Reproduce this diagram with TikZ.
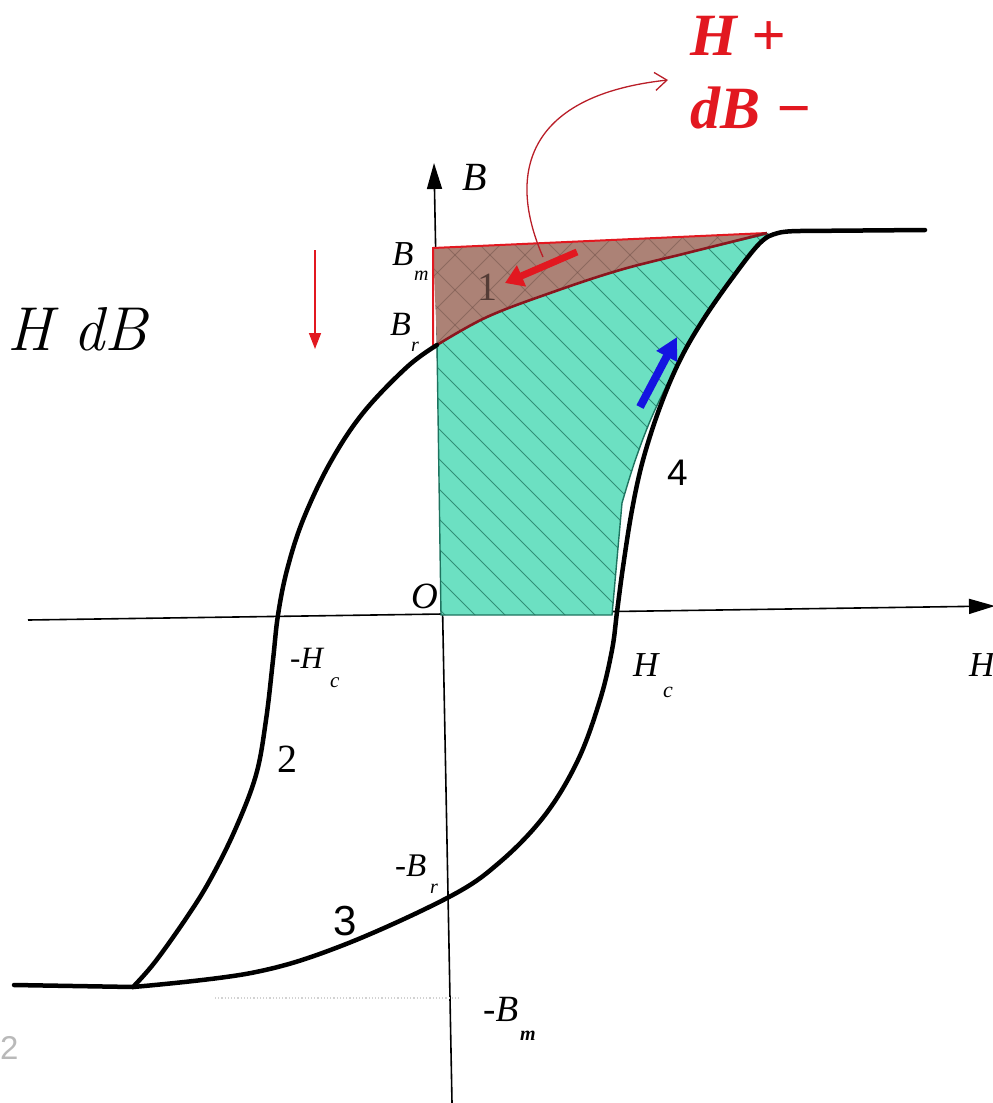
\documentclass[tikz,border=0pt]{standalone}
\usepackage{fontspec}
\newfontfamily\tnr{Liberation Serif}
\newfontfamily\ars{Liberation Sans}
\usetikzlibrary{arrows.meta}
\definecolor{teal1}{RGB}{108,224,194}
\definecolor{tealdk}{RGB}{30,115,95}
\definecolor{brown1}{RGB}{172,130,118}
\definecolor{browndk}{RGB}{105,75,68}
\definecolor{red1}{RGB}{226,24,32}
\definecolor{red2}{RGB}{185,30,40}
\definecolor{blue1}{RGB}{20,20,225}
\newcommand\fsz[1]{\fontsize{#1}{#1}\selectfont}
\begin{document}
\begin{tikzpicture}[x=1pt,y=-1pt,
  lbl/.style={inner sep=0pt, anchor=base west},
  curve/.style={line width=4.5pt, line join=round, line cap=round},
  axis/.style={line width=1.6pt, -{Triangle[length=26pt,width=15pt]}},
  hatch/.style={tealdk, line width=0.9pt, opacity=0.75},
  xhatch/.style={browndk, line width=0.9pt, opacity=0.45}]
\useasboundingbox (0,0) rectangle (993,1103);

% axes
\coordinate (bbot) at (452,1103);
\coordinate (btop) at (434,163);
\coordinate (hleft) at (28,620);
\coordinate (hright) at (995,606);
\draw[axis] (bbot) -- (btop);
\draw[axis] (hleft) -- (hright);

% faint dotted line at -Bm
\coordinate (d1) at (215,998);
\coordinate (d2) at (461,998);
\draw[gray!35, line width=1.2pt, dotted] (d1) -- (d2);

% teal region
\def\tealpath{(437,345) -- (441,615) -- (612,615) -- (622,503)
  -- plot[smooth,tension=0.6] coordinates {(622,503) (636,458) (654,412) (680,360) (703,320) (733,277) (760,243) (767,234)}
  -- plot[smooth,tension=0.6] coordinates {(767,234) (687,253) (620,270) (553,292) (487,317) (437,345)} -- cycle}
\fill[teal1] \tealpath;
\begin{scope}
  \clip \tealpath;
  \foreach \c in {-200,-170,...,560} \draw[hatch] (\c+150,150) -- (\c+700,700);
\end{scope}
\draw[tealdk, line width=1.4pt] \tealpath;

% brown region
\def\brownpath{(433,248) -- (767,233)
  -- plot[smooth,tension=0.6] coordinates {(767,233) (687,253) (620,270) (553,292) (487,317) (437,345)} -- cycle}
\fill[brown1] \brownpath;
\begin{scope}
  \clip \brownpath;
  \foreach \c in {60,95,...,560} \draw[xhatch] (\c+200,200) -- (\c+400,400);
  \foreach \c in {640,675,...,1140} \draw[xhatch] (\c-200,200) -- (\c-400,400);
\end{scope}
\draw[red1, line width=2pt] (433,345) -- (433,248) -- (767,233);
\draw[red2!75!black, line width=2.6pt] plot[smooth,tension=0.6] coordinates {(767,233) (687,253) (620,270) (553,292) (487,317) (437,345)};

% hysteresis loop (black)
\draw[curve] (14,985) -- plot[smooth,tension=0.6] coordinates {(133,987) (251,973) (341,946) (449,897) (500,862) (545,815) (578,760) (600,700) (612,650) (617,612) (623,567) (632,510) (643,460) (660,407) (680,360) (703,320) (733,277) (760,243) (778,233) (800,231)} -- (925,230);
\draw[curve] plot[smooth,tension=0.6] coordinates {(437,345) (407,367) (363,413) (330,463) (303,520) (287,570) (278,615) (273,660) (266,720) (256,775) (235,830) (210,880) (187,917) (155,962) (133,987)};

% arrows
\coordinate (ra1) at (577,252); \coordinate (ra2) at (505,283);
\draw[red1, line width=7pt, -{Triangle[length=18pt,width=22pt]}] (ra1) -- (ra2);
\coordinate (ba1) at (640,407); \coordinate (ba2) at (677,337);
\draw[blue1, line width=8pt, -{Triangle[length=22pt,width=22pt]}] (ba1) -- (ba2);
\coordinate (va1) at (315,250); \coordinate (va2) at (315,349);
\draw[red1, line width=1.6pt, -{Triangle[length=16pt,width=12pt]}] (va1) -- (va2);
\coordinate (ca1) at (543,257); \coordinate (ca2) at (668,80);
\draw[red2, line width=1.3pt, -{Straight Barb[length=12pt,width=18pt]}] (ca1) .. controls (505,170) and (530,95) .. (ca2);

% big texts
\node[lbl, red1] (hplus) at (690,55) {\tnr\bfseries\itshape\fsz{60}H +};
\node[lbl, red1] (dbminus) at (690,128) {\tnr\bfseries\itshape\fsz{60}dB \char"2212};
\node[lbl] (hdb) at (7,350) {\itshape\fsz{62}H dB};

% axis labels
\node[lbl] (lB) at (462,190) {\tnr\itshape\fsz{40}B};
\node[lbl] (lBm) at (392,265) {\tnr\itshape\fsz{35}B};
\node[lbl] (lBms) at (414,280) {\tnr\itshape\fsz{20}m};
\node[lbl] (lBr) at (390,335) {\tnr\itshape\fsz{34}B};
\node[lbl] (lBrs) at (411,351) {\tnr\itshape\fsz{20}r};
\node[lbl] (lO) at (411,608) {\tnr\itshape\fsz{37}O};
\node[lbl] (lHc) at (633,676) {\tnr\itshape\fsz{35}H};
\node[lbl] (lHcs) at (663,697) {\tnr\itshape\fsz{22}c};
\node[lbl] (lnHc) at (290,668) {\tnr\itshape\fsz{31}-H};
\node[lbl] (lnHcs) at (330,687) {\tnr\itshape\fsz{21}c};
\node[lbl] (lH) at (969,676) {\tnr\itshape\fsz{35}H};
\node[lbl] (lnBr) at (395,876) {\tnr\itshape\fsz{33}-B};
\node[lbl] (lnBrs) at (430,893) {\tnr\itshape\fsz{20}r};
\node[lbl] (lnBm) at (483,1021) {\tnr\itshape\fsz{37}-B};
\node[lbl] (lnBms) at (520,1040) {\tnr\bfseries\itshape\fsz{20}m};

% branch numbers
\node[lbl, browndk!80!black] (n1) at (477,300) {\tnr\fsz{40}1};
\node[lbl] (n2) at (277,772) {\tnr\fsz{40}2};
\node[lbl] (n3) at (333,935) {\ars\fsz{42}3};
\node[lbl] (n4) at (667,485) {\ars\fsz{37}4};
\node[lbl, gray!55] (g2) at (0,1059) {\ars\fsz{33}2};
\end{tikzpicture}
\end{document}
